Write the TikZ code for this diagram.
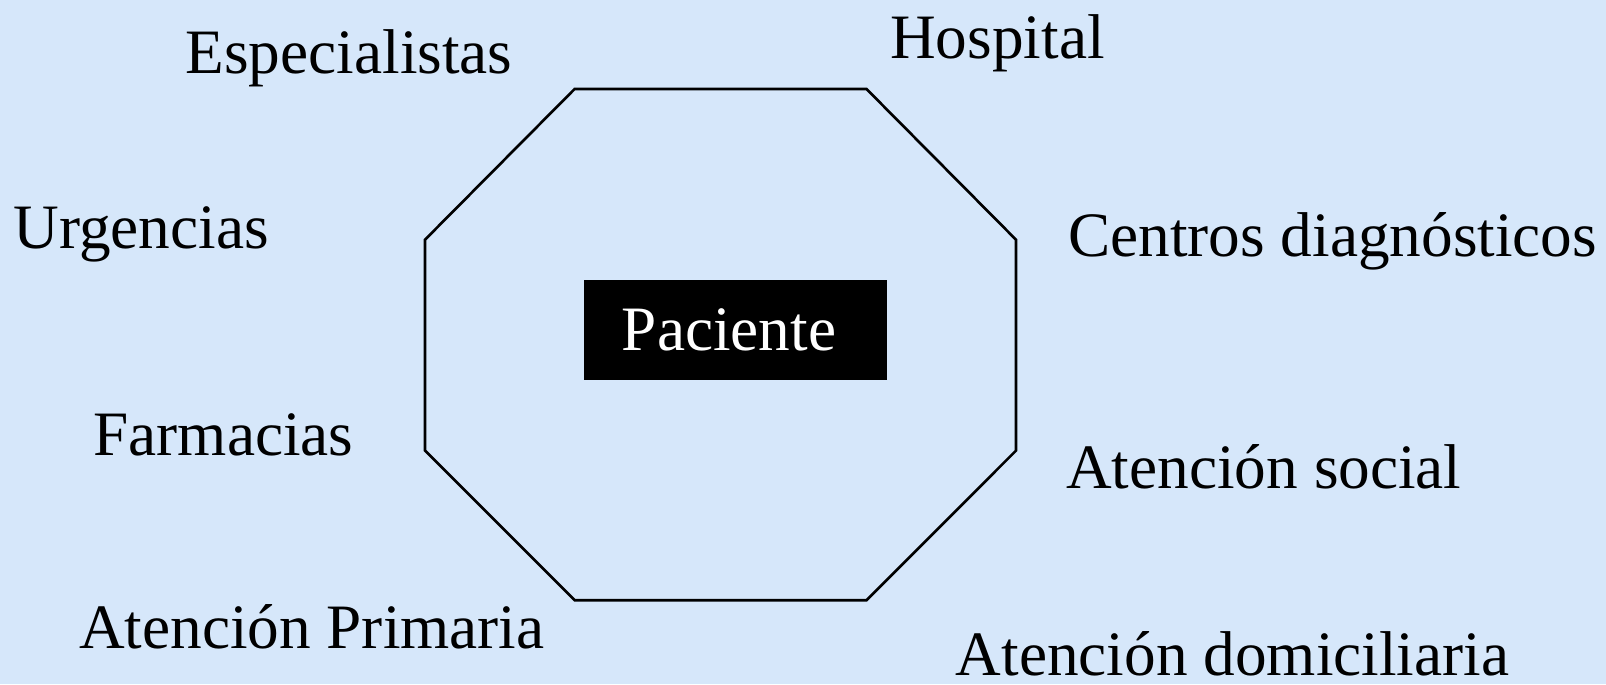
\documentclass[tikz,border=0pt]{standalone}
\usepackage{fontspec}
\setmainfont{Liberation Serif}
\definecolor{fondo}{RGB}{214,231,250}

\begin{document}
\begin{tikzpicture}[x=0.02cm,y=-0.02cm,line width=1.5pt,
  etiqueta/.style={anchor=base west,inner sep=0pt,font=\fontsize{36}{43}\selectfont}]
\fill[fondo] (0,0) rectangle (1606,684);
\useasboundingbox (0,0) rectangle (1606,684);
\draw (574.6,89) -- (866.5,89) -- (1016,239.7) -- (1016,450.6) -- (866.5,600.2) -- (574.6,600.2) -- (425,450.6) -- (425,239.7) -- cycle;
\node[fill=black,text=white,inner xsep=0.76cm,inner ysep=0pt,text width=4.54cm,align=left,minimum height=2.01cm,font=\fontsize{36}{43}\selectfont] (paciente) at (735.4,329.8) {Paciente};
\node[etiqueta] (especialistas) at (184.4,73.7) {Especialistas};
\node[etiqueta] (hospital) at (889,58.4) {Hospital};
\node[etiqueta] (urgencias) at (12.3,248.9) {Urgencias};
\node[etiqueta] (centros) at (1067,256) {Centros diagnósticos};
\node[etiqueta] (farmacias) at (92.2,455.8) {Farmacias};
\node[etiqueta] (social) at (1065,488.5) {Atención social};
\node[etiqueta] (primaria) at (77.8,648.3) {Atención Primaria};
\node[etiqueta] (domicilio) at (954.6,675) {Atención domiciliaria};
\end{tikzpicture}
\end{document}
